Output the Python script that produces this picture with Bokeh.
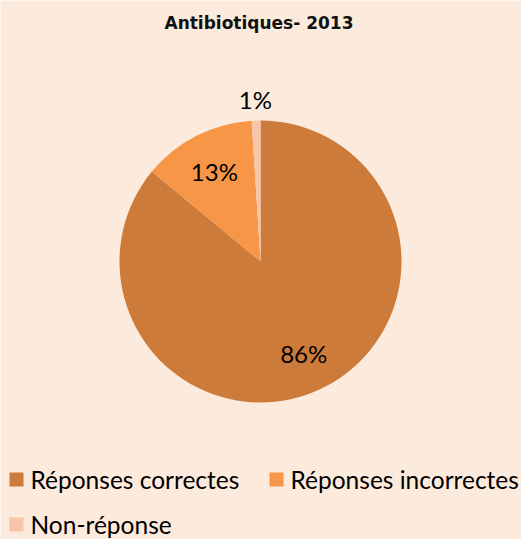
import math
from bokeh.plotting import figure
from bokeh.models import Range1d
from bokeh.core.properties import value
from bokeh.embed import file_html
from bokeh.resources import INLINE

title = "Antibiotiques- 2013"
categories = ["Réponses correctes", "Réponses incorrectes", "Non-réponse"]
percents = [86, 13, 1]
colors = ["#CD7B3A", "#F79646", "#FAC4A9"]

W, H = 521, 539
BG = "#FCEADC"
p = figure(width=W, height=H, output_backend="svg", toolbar_location=None,
           x_range=Range1d(0, W), y_range=Range1d(0, H), min_border=0,
           background_fill_color=BG, border_fill_color=BG, outline_line_color=None)
p.axis.visible = False
p.grid.visible = False

cx, cy, R = 260, H - 261, 141
total = sum(percents)
cum = 0.0
starts, ends, mids = [], [], []
for v in percents:
    a0 = math.pi / 2 - 2 * math.pi * cum / total
    cum += v
    a1 = math.pi / 2 - 2 * math.pi * cum / total
    starts.append(a0); ends.append(a1); mids.append((a0 + a1) / 2)

p.wedge(x=cx, y=cy, radius=R, start_angle=starts, end_angle=ends,
        direction="clock", fill_color=colors, line_color=None)

lx, ly, lt = [], [], []
for v, m in zip(percents, mids):
    r = 0.72 * R if v >= 5 else 1.15 * R
    lx.append(cx + r * math.cos(m)); ly.append(cy + r * math.sin(m)); lt.append(f"{v}%")
p.text(x=lx, y=ly, text=lt, text_align="center", text_baseline="middle",
       text_font=value("Lato"), text_font_size="24px", text_color="#000000")

p.text(x=[W / 2 - 2], y=[H - 22], text=[title], text_align="center", text_baseline="middle",
       text_font=value("DejaVu Sans"), text_font_size="17px", text_font_style="bold", text_color="#111111")

# legend
leg_x = [9, 269, 9]
leg_y = [H - 479, H - 479, H - 524]
p.rect(x=[x + 7 for x in leg_x], y=leg_y, width=14, height=14, fill_color=colors, line_color=None)
p.text(x=[x + 21 for x in leg_x], y=leg_y, text=categories, text_align="left", text_baseline="middle",
       text_font=value("Lato"), text_font_size="24.5px", text_color="#000000")

open("out.html", "w").write(file_html(p, INLINE))
